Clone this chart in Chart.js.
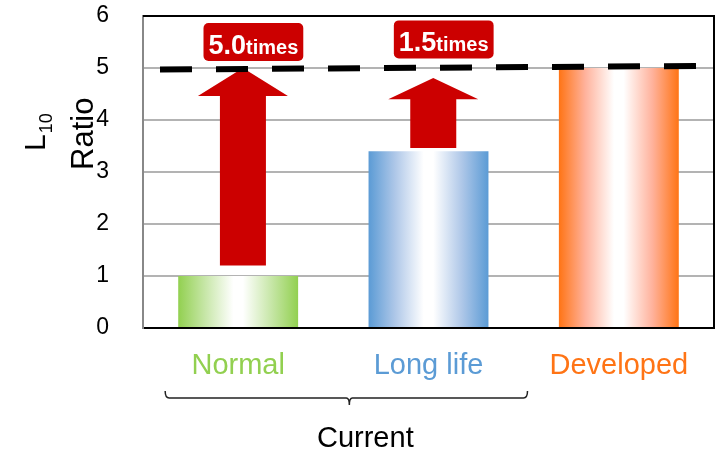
<!DOCTYPE html>
<html>
<head>
<meta charset="utf-8">
<script src="https://cdn.jsdelivr.net/npm/chart.js@4.4.0/dist/chart.umd.min.js"></script>
<style>
  body { margin: 0; background: #fff; }
  #wrap { width: 721px; height: 450px; }
</style>
</head>
<body>
<div id="wrap"><canvas id="myChart"></canvas></div>
<script>
const categories = ['Normal', 'Long life', 'Developed'];
const ratioValues = [1.0, 3.4, 5.0];
const barColors = ['#92D050', '#5B9BD5', '#FF7415'];
const barMidColors = ['#C6E6A6', '#AEC7E8', '#FFB29C'];
const targetLine = [4.97, 5.04];      // dashed level at left end / right end
const arrowTail = [1.2, 3.46];
const arrowTip = [5.0, 4.81];
const arrowHeadBase = [4.46, 4.4];
const gainText = ['5.0', '1.5'];
const gainBoxMid = [5.5, 5.55];
const yMin = 0, yMax = 6;
const groupLabel = 'Current';

const plain = '"Liberation Sans", Arial, sans-serif';

function barGradient(context) {
  const chart = context.chart;
  const i = context.dataIndex;
  if (!chart.chartArea || !chart.scales.x) return barColors[i];
  const x = chart.scales.x;
  const step = x.getPixelForValue(1) - x.getPixelForValue(0);
  const cx = x.getPixelForValue(i);
  const half = step * 0.63 / 2;
  const g = chart.ctx.createLinearGradient(cx - half, 0, cx + half, 0);
  g.addColorStop(0, barColors[i]);
  g.addColorStop(0.22, barMidColors[i]);
  g.addColorStop(0.46, '#FFFFFF');
  g.addColorStop(0.54, '#FFFFFF');
  g.addColorStop(0.78, barMidColors[i]);
  g.addColorStop(1, barColors[i]);
  return g;
}

const overlay = {
  id: 'overlay',
  afterDatasetsDraw(chart) {
    const { ctx, chartArea: a, scales: { x, y } } = chart;
    const step = x.getPixelForValue(1) - x.getPixelForValue(0);
    ctx.save();

    // red arrows
    ctx.fillStyle = '#CC0000';
    for (let i = 0; i < arrowTail.length; i++) {
      const cx = x.getPixelForValue(i) + step * 0.025;
      const shaft = 23, head = 45;
      const t = y.getPixelForValue(arrowTail[i]);
      const p = y.getPixelForValue(arrowTip[i]);
      const b = y.getPixelForValue(arrowHeadBase[i]);
      ctx.beginPath();
      ctx.moveTo(cx - shaft, t);
      ctx.lineTo(cx - shaft, b);
      ctx.lineTo(cx - head, b);
      ctx.lineTo(cx, p);
      ctx.lineTo(cx + head, b);
      ctx.lineTo(cx + shaft, b);
      ctx.lineTo(cx + shaft, t);
      ctx.closePath();
      ctx.fill();
    }

    // dashed target line
    const x0 = a.left + 17, x1 = x0 + 56 * 9 + 32;
    ctx.strokeStyle = '#000';
    ctx.lineWidth = 6;
    ctx.setLineDash([32, 24]);
    ctx.beginPath();
    ctx.moveTo(x0, y.getPixelForValue(targetLine[0]));
    ctx.lineTo(x1, y.getPixelForValue(targetLine[1]));
    ctx.stroke();
    ctx.setLineDash([]);

    // gain labels
    for (let i = 0; i < gainText.length; i++) {
      ctx.font = 'bold 27px ' + plain;
      const w1 = ctx.measureText(gainText[i]).width;
      ctx.font = 'bold 20px ' + plain;
      const w2 = ctx.measureText('times').width;
      const bw = w1 + w2 + 10, bh = 38;
      const cx = x.getPixelForValue(i) + step * 0.08;
      const cy = y.getPixelForValue(gainBoxMid[i]);
      ctx.fillStyle = '#CC0000';
      ctx.beginPath();
      ctx.roundRect(cx - bw / 2, cy - bh / 2, bw, bh, 5);
      ctx.fill();
      ctx.fillStyle = '#fff';
      ctx.textBaseline = 'alphabetic';
      ctx.textAlign = 'left';
      const base = cy + bh / 2 - 7;
      ctx.font = 'bold 27px ' + plain;
      ctx.fillText(gainText[i], cx - bw / 2 + 5, base);
      ctx.font = 'bold 20px ' + plain;
      ctx.fillText('times', cx - bw / 2 + 5 + w1, base);
    }

    // frame top and right
    ctx.strokeStyle = '#000';
    ctx.lineWidth = 2;
    ctx.beginPath();
    ctx.moveTo(a.left, a.top);
    ctx.lineTo(a.right, a.top);
    ctx.lineTo(a.right, a.bottom);
    ctx.stroke();
    ctx.restore();
  },
  afterDraw(chart) {
    const { ctx, chartArea: a, scales: { x } } = chart;
    ctx.save();
    ctx.fillStyle = '#000';
    ctx.textAlign = 'left';
    ctx.textBaseline = 'alphabetic';

    // y title: L10 / Ratio, rotated
    ctx.save();
    ctx.translate(a.left - 98, a.top + 135);
    ctx.rotate(-Math.PI / 2);
    ctx.font = '30px ' + plain;
    ctx.fillText('L', 0, 0);
    const lw = ctx.measureText('L').width;
    ctx.font = '18px ' + plain;
    ctx.fillText('10', lw + 1, 7);
    ctx.restore();

    ctx.save();
    ctx.translate(a.left - 50, a.top + 154);
    ctx.rotate(-Math.PI / 2);
    ctx.font = '31px ' + plain;
    ctx.fillText('Ratio', 0, 0);
    ctx.restore();

    // bracket under the current products
    const bl = x.getPixelForValue(0) - 73;
    const br = x.getPixelForValue(1) + 99;
    const by = a.bottom + 70;
    const mid = (bl + br) / 2 + 3;
    ctx.strokeStyle = '#222';
    ctx.lineWidth = 1.5;
    ctx.beginPath();
    ctx.moveTo(bl, by - 7);
    ctx.quadraticCurveTo(bl, by, bl + 4, by);
    ctx.lineTo(mid - 3, by);
    ctx.quadraticCurveTo(mid, by, mid, by + 7);
    ctx.quadraticCurveTo(mid, by, mid + 3, by);
    ctx.lineTo(br - 4, by);
    ctx.quadraticCurveTo(br, by, br, by - 7);
    ctx.stroke();

    ctx.font = '29px ' + plain;
    ctx.textAlign = 'center';
    ctx.fillText(groupLabel, mid + 16, a.bottom + 119);
    ctx.restore();
  }
};

new Chart('myChart', {
  type: 'bar',
  data: {
    labels: categories,
    datasets: [{
      data: ratioValues,
      backgroundColor: barGradient,
      borderWidth: 0,
      barPercentage: 0.63,
      categoryPercentage: 1
    }]
  },
  options: {
    responsive: true,
    maintainAspectRatio: false,
    animation: false,
    layout: { padding: { left: 0, right: 7, top: 16, bottom: 0 } },
    plugins: {
      legend: { display: false },
      tooltip: { enabled: false }
    },
    scales: {
      x: {
        grid: { display: false },
        border: { color: '#000', width: 2 },
        ticks: {
          padding: 13,
          color: (c) => barColors[c.index],
          font: { family: plain, size: 29 }
        },
        afterFit: (s) => { s.height = 122; }
      },
      y: {
        min: yMin,
        max: yMax,
        ticks: {
          stepSize: 1,
          padding: 34,
          color: '#000',
          font: { family: plain, size: 23 }
        },
        grid: { color: '#B3B3B3', lineWidth: 2, drawTicks: false },
        border: { color: '#888', width: 2 },
        afterFit: (s) => { s.width = 143; s.paddingTop = 0; s.paddingBottom = 0; }
      }
    }
  },
  plugins: [overlay]
});
</script>
</body>
</html>
